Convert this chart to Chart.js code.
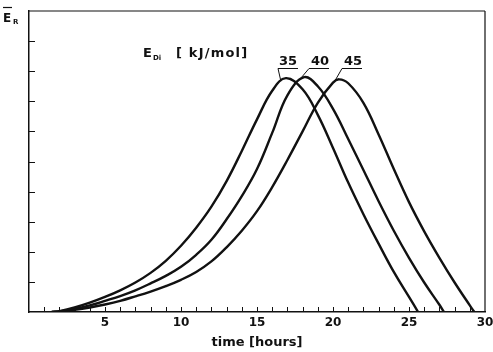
<!DOCTYPE html>
<html>
<head>
<meta charset="utf-8">
<script src="https://cdn.jsdelivr.net/npm/chart.js@4/dist/chart.umd.min.js"></script>
<style>
  html,body{margin:0;padding:0;background:#fff;}
  #wrap{width:493px;height:352px;position:relative;}
</style>
</head>
<body>
<div id="wrap"><canvas id="c" width="493" height="352"></canvas></div>
<script>
// ---- data ----
const seriesLabels = ["35", "40", "45"];   // E_Di [kJ/mol]
const t35 = [1.5, 2, 3, 4, 5, 6, 7, 8, 9, 10, 11, 12, 13, 14, 15, 16, 16.9, 18, 19, 20, 21, 22, 23, 24, 25, 25.6];
const e35 = [0.0, 0.03, 0.15, 0.31, 0.50, 0.72, 0.98, 1.30, 1.70, 2.20, 2.80, 3.50, 4.35, 5.35, 6.40, 7.35, 7.77, 7.40, 6.55, 5.45, 4.30, 3.25, 2.27, 1.33, 0.50, 0.0];
const t40 = [1.5, 2, 3, 4, 5, 6, 7, 8, 9, 10, 11, 12, 13, 14, 15, 16, 17, 18.1, 19, 20, 21, 22, 23, 24, 25, 26, 27, 27.3];
const e40 = [0.0, 0.02, 0.10, 0.22, 0.37, 0.53, 0.72, 0.95, 1.20, 1.50, 1.90, 2.40, 3.08, 3.85, 4.75, 5.95, 7.20, 7.80, 7.50, 6.75, 5.75, 4.72, 3.68, 2.70, 1.80, 0.98, 0.24, 0.0];
const t45 = [1.5, 2, 3, 4, 5, 6, 7, 8, 9, 10, 11, 12, 13, 14, 15, 16, 17, 18, 19, 20, 20.4, 21, 22, 23, 24, 25, 26, 27, 28, 29, 29.3];
const e45 = [0.0, 0.01, 0.07, 0.15, 0.25, 0.37, 0.52, 0.68, 0.86, 1.07, 1.33, 1.68, 2.15, 2.70, 3.35, 4.15, 5.05, 6.00, 6.95, 7.62, 7.73, 7.60, 6.95, 5.90, 4.75, 3.65, 2.68, 1.80, 0.98, 0.22, 0.0];
const xTickLabels = ["5", "10", "15", "20", "25", "30"];
const xMin = 0, xMax = 30, yMin = 0, yMax = 10;

const toPts = (ts, es) => ts.map((t, i) => ({x: t, y: es[i]}));
const allT = [t35, t40, t45], allE = [e35, e40, e45];

const FONT = "'DejaVu Sans', sans-serif";
const INK = "#111";

const decor = {
  id: "decor",
  afterDraw(chart) {
    const {ctx, chartArea: a, scales: {x, y}} = chart;
    ctx.save();
    ctx.strokeStyle = INK;
    // top and right frame
    ctx.lineWidth = 1.2;
    ctx.beginPath();
    ctx.moveTo(a.left, a.top); ctx.lineTo(a.right, a.top);
    ctx.moveTo(a.right, a.top); ctx.lineTo(a.right, a.bottom);
    ctx.stroke();
    // minor ticks on x (inside)
    ctx.lineWidth = 1;
    ctx.beginPath();
    for (let v = xMin + 1; v < xMax; v++) {
      const px = Math.round(x.getPixelForValue(v)) + 0.5;
      ctx.moveTo(px, a.bottom); ctx.lineTo(px, a.bottom - 5);
    }
    // ticks on y (inside)
    for (let v = yMin + 1; v < yMax; v++) {
      const py = Math.round(y.getPixelForValue(v)) + 0.5;
      ctx.moveTo(a.left, py); ctx.lineTo(a.left + 6, py);
    }
    ctx.stroke();
    // y axis label  E-bar with subscript R
    ctx.fillStyle = INK;
    ctx.textBaseline = "alphabetic";
    ctx.font = "bold 12px " + FONT;
    ctx.fillText("E", 3, 22);
    ctx.font = "bold 7px " + FONT;
    ctx.fillText("R", 13, 24);
    ctx.lineWidth = 1.2;
    ctx.beginPath(); ctx.moveTo(3, 7.5); ctx.lineTo(12, 7.5); ctx.stroke();
    // series legend title
    ctx.font = "bold 13px " + FONT;
    ctx.fillText("E", 143, 57);
    ctx.font = "bold 7px " + FONT;
    ctx.fillText("Di", 153, 60);
    ctx.font = "bold 13px " + FONT;
    if ("letterSpacing" in ctx) ctx.letterSpacing = "1.2px";
    ctx.fillText("[ kJ/mol]", 176, 57);
    if ("letterSpacing" in ctx) ctx.letterSpacing = "0px";
    // curve labels with underline + leader to peak
    ctx.font = "bold 13px " + FONT;
    const lab = [{tx: 279, ux0: 278, ux1: 298}, {tx: 311, ux0: 309, ux1: 329}, {tx: 344, ux0: 342, ux1: 362}];
    lab.forEach((L, i) => {
      ctx.fillText(seriesLabels[i], L.tx, 65);
      const es = allE[i];
      const k = es.indexOf(Math.max(...es));
      const px = x.getPixelForValue(allT[i][k]) - 5;
      const py = y.getPixelForValue(es[k]) + 3;
      ctx.lineWidth = 1;
      ctx.beginPath();
      ctx.moveTo(L.ux1, 68.5); ctx.lineTo(L.ux0, 68.5); ctx.lineTo(px, py);
      ctx.stroke();
    });
    ctx.restore();
  }
};

new Chart(document.getElementById("c"), {
  type: "scatter",
  data: {
    datasets: seriesLabels.map((s, i) => ({
      label: s,
      data: toPts(allT[i], allE[i]),
      showLine: true,
      borderColor: INK,
      borderWidth: 2.4,
      pointRadius: 0,
      tension: 0.4,
      fill: false
    }))
  },
  options: {
    responsive: false,
    animation: false,
    devicePixelRatio: 1,
    layout: {padding: {left: 29, right: 0, top: 11, bottom: 0}},
    plugins: {legend: {display: false}, tooltip: {enabled: false}},
    scales: {
      x: {
        type: "linear", min: xMin, max: xMax,
        grid: {display: false, drawTicks: false},
        border: {display: true, color: INK, width: 1.5},
        afterFit: (s) => { s.paddingRight = 8; },
        ticks: {
          stepSize: 5, autoSkip: false, maxRotation: 0, padding: 4,
          color: INK, font: {family: FONT, size: 12, weight: "bold"},
          callback: (v) => { const s = String(v); return xTickLabels.includes(s) ? s : ""; }
        },
        title: {display: true, text: "time [hours]", color: INK, padding: {top: 0, bottom: 2},
                font: {family: FONT, size: 13, weight: "bold"}}
      },
      y: {
        type: "linear", min: yMin, max: yMax,
        grid: {display: false, drawTicks: false},
        border: {display: true, color: INK, width: 1.5},
        ticks: {display: false, stepSize: 1, padding: 0}
      }
    }
  },
  plugins: [decor]
});
</script>
</body>
</html>
